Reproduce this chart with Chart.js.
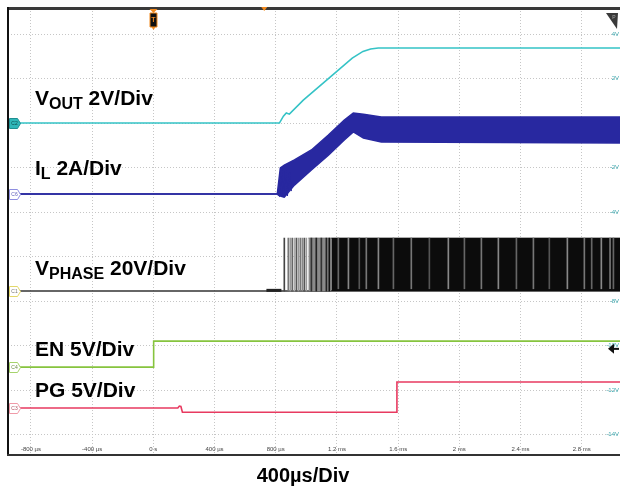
<!DOCTYPE html>
<html>
<head>
<meta charset="utf-8">
<script src="https://cdn.jsdelivr.net/npm/chart.js@4.4.1/dist/chart.umd.min.js"></script>
<style>
  html, body { margin: 0; padding: 0; background: #ffffff; }
  #wrap { width: 620px; height: 486px; }
</style>
</head>
<body>
<div id="wrap"><canvas id="c" width="620" height="486"></canvas></div>
<script>
// ---- axis ticks (time in µs, screen volts) ----
const timeTicks = [-800, -400, 0, 400, 800, 1200, 1600, 2000, 2400, 2800];
const timeTickLabels = ['-800 µs', '-400 µs', '0 s', '400 µs', '800 µs', '1.2 ms', '1.6 ms', '2 ms', '2.4 ms', '2.8 ms'];
const voltTicks = [4, 2, 0, -2, -4, -6, -8, -10, -12, -14];
const voltTickLabels = ['4V', '2V', '0V', '-2V', '-4V', '-6V', '-8V', '-10V', '-12V', '-14V'];

// ---- VOUT ----
const voutT = [-950, 824, 850, 869, 889, 980, 1163, 1300, 1370, 1420, 1470, 3050];
const voutV = [0, 0, 0.31, 0.45, 0.40, 1.03, 2.11, 2.92, 3.22, 3.33, 3.37, 3.37];

// ---- IL envelope (ripple band) ----
const ilT     = [-950, 810, 830, 856, 922, 1033, 1144, 1248, 1307, 1373, 1490, 3050];
const ilUpper = [-3.19, -3.19, -2.02, -1.89, -1.66, -1.21, -0.54, 0.13, 0.45, 0.40, 0.27, 0.27];
const ilLower = [-3.19, -3.19, -3.28, -3.33, -2.79, -2.11, -1.44, -0.76, -0.40, -0.67, -0.85, -0.90];
// IL start-up ringing
const ilRingT = [810, 824, 837, 850, 863, 876, 889, 902];
const ilRingV = [-3.19, -3.28, -2.02, -3.33, -2.11, -3.28, -2.20, -3.06];

// ---- VPHASE ----
const phaseLow = -7.55;
const phaseHigh = -5.17;
const phaseBaseT = [-950, 3050];
const phaseBumpT = [739, 837];
const phaseGrayT = [1013, 1163];
const phaseBlockT = [1163, 3050];
const pulseT = [856, 882, 895, 908, 922, 935, 948, 961, 974, 987, 1000, 1033, 1065, 1098, 1131, 1150];
const pulseShade = ['#444', '#777', '#999', '#666', '#aaa', '#555', '#999', '#777', '#888', '#555', '#999', '#333', '#222', '#333', '#222', '#111'];
const gapT = [1209, 1275, 1346, 1392, 1471, 1569, 1686, 1804, 1928, 2033, 2144, 2255, 2373, 2484, 2588, 2706, 2817, 2865, 2928, 2985, 3007];
const gapShade = ['#666', '#888', '#555', '#777', '#888', '#666', '#777', '#555', '#888', '#666', '#777', '#888', '#666', '#777', '#555', '#888', '#777', '#666', '#888', '#777', '#666'];

// ---- EN ----
const enT = [-950, 2, 2, 3050];
const enV = [-10.97, -10.97, -9.80, -9.80];

// ---- PG ----
const pgT = [-950, 160, 170, 180, 190, 1588, 1592, 3050];
const pgV = [-12.81, -12.81, -12.72, -12.74, -13.0, -13.0, -11.64, -11.64];

const zip = (xs, ys) => xs.map((x, i) => ({ x: x, y: ys[i] }));
const flat = (xs, v) => xs.map(x => ({ x: x, y: v }));

const COL = {
  vout: '#35c3c6',
  il: '#2828a0',
  phase: '#111111',
  en: '#86c43e',
  pg: '#e83a60'
};

const lineBase = { type: 'line', pointRadius: 0, tension: 0, borderWidth: 1.5, fill: false };

const overlay = {
  id: 'overlay',
  beforeDatasetsDraw(chart) {
    const ctx = chart.ctx, xs = chart.scales.x, ys = chart.scales.y;
    const a = chart.chartArea;
    ctx.save();
    ctx.font = '6px "Liberation Sans", Arial, sans-serif';
    ctx.fillStyle = '#3aa6ad';
    ctx.textAlign = 'right';
    ctx.textBaseline = 'middle';
    voltTicks.forEach((v, i) => ctx.fillText(voltTickLabels[i], a.right - 1, ys.getPixelForValue(v)));
    ctx.fillStyle = '#444';
    ctx.textAlign = 'center';
    ctx.textBaseline = 'alphabetic';
    timeTicks.forEach((t, i) => ctx.fillText(timeTickLabels[i], xs.getPixelForValue(t), a.bottom - 4));
    ctx.restore();
  },
  afterDatasetsDraw(chart) {
    const ctx = chart.ctx, xs = chart.scales.x, ys = chart.scales.y;
    const a = chart.chartArea;
    ctx.save();
    // frame
    ctx.fillStyle = '#3a3a3a';
    ctx.fillRect(a.left, a.top - 1, a.right - a.left, 3);
    ctx.fillStyle = '#111';
    ctx.fillRect(a.left - 1, a.top - 1, 2, a.bottom - a.top + 2);
    ctx.fillStyle = '#333';
    ctx.fillRect(a.left - 1, a.bottom - 1, a.right - a.left + 1, 2);

    // trigger marker at t = 0
    const tx = Math.round(xs.getPixelForValue(0)) + 0.5;
    ctx.fillStyle = '#f28a1e';
    ctx.beginPath(); ctx.moveTo(tx - 4, a.top + 1); ctx.lineTo(tx + 4, a.top + 1); ctx.lineTo(tx, a.top + 5); ctx.closePath(); ctx.fill();
    ctx.fillStyle = '#111';
    ctx.strokeStyle = '#f28a1e';
    ctx.lineWidth = 1;
    ctx.beginPath(); ctx.rect(tx - 3.5, a.top + 5, 7, 14); ctx.fill(); ctx.stroke();
    ctx.fillStyle = '#f28a1e';
    ctx.beginPath(); ctx.moveTo(tx - 2, a.top + 19); ctx.lineTo(tx + 2, a.top + 19); ctx.lineTo(tx, a.top + 22); ctx.closePath(); ctx.fill();
    ctx.font = 'bold 7px "Liberation Sans", Arial';
    ctx.textAlign = 'center'; ctx.textBaseline = 'middle';
    ctx.fillText('T', tx, a.top + 12);
    // horizontal position marker
    const hx = xs.getPixelForValue(725);
    ctx.fillStyle = '#f28a1e';
    ctx.beginPath(); ctx.moveTo(hx - 3, a.top - 1); ctx.lineTo(hx + 3, a.top - 1); ctx.lineTo(hx, a.top + 3); ctx.closePath(); ctx.fill();

    // top-right marker
    ctx.fillStyle = '#3a3a3a';
    ctx.beginPath(); ctx.moveTo(a.right - 14, a.top + 5); ctx.lineTo(a.right - 2, a.top + 5); ctx.lineTo(a.right - 3, a.top + 21); ctx.closePath(); ctx.fill();
    ctx.fillStyle = '#aaa';
    ctx.font = '5px "Liberation Sans", Arial';
    ctx.fillText('P', a.right - 6, a.top + 10);

    // trigger level arrow on right
    const ay = ys.getPixelForValue(-10.15);
    ctx.fillStyle = '#111';
    ctx.beginPath(); ctx.moveTo(a.right - 12, ay); ctx.lineTo(a.right - 6, ay - 5); ctx.lineTo(a.right - 6, ay + 5); ctx.closePath(); ctx.fill();
    ctx.fillRect(a.right - 7, ay - 1, 6, 2);

    // channel tags
    const tags = [
      { v: 0, t: 'C2', fill: '#2fb7b9', stroke: '#1f8f92', txt: '#0b4a4c' },
      { v: -3.19, t: 'C6', fill: '#ffffff', stroke: '#8e8ee0', txt: '#5a5ab8' },
      { v: phaseLow, t: 'C1', fill: '#ffffff', stroke: '#e3d86a', txt: '#777' },
      { v: -10.97, t: 'C4', fill: '#ffffff', stroke: '#a6d36c', txt: '#6a8a40' },
      { v: -12.81, t: 'C3', fill: '#ffffff', stroke: '#f09aa8', txt: '#b05060' }
    ];
    ctx.font = '5px "Liberation Sans", Arial';
    tags.forEach(g => {
      const y = Math.round(ys.getPixelForValue(g.v)) + 0.5;
      const x0 = a.left + 1.5;
      ctx.beginPath();
      ctx.moveTo(x0, y - 5); ctx.lineTo(x0 + 8, y - 5); ctx.lineTo(x0 + 11, y);
      ctx.lineTo(x0 + 8, y + 5); ctx.lineTo(x0, y + 5); ctx.closePath();
      ctx.fillStyle = g.fill; ctx.fill();
      ctx.strokeStyle = g.stroke; ctx.lineWidth = 1; ctx.stroke();
      ctx.fillStyle = g.txt; ctx.textAlign = 'center'; ctx.textBaseline = 'middle';
      ctx.fillText(g.t, x0 + 5, y + 0.5);
    });

    // trace labels
    const big = 'bold 21px "Liberation Sans", Arial, sans-serif';
    const sub = 'bold 16px "Liberation Sans", Arial, sans-serif';
    ctx.fillStyle = '#000';
    ctx.textAlign = 'left';
    ctx.textBaseline = 'alphabetic';
    const label = (x, y, main, subs, rest) => {
      ctx.font = big; ctx.fillText(main, x, y);
      let cx = x + ctx.measureText(main).width;
      if (subs) {
        ctx.font = sub; ctx.fillText(subs, cx, y + 4);
        cx += ctx.measureText(subs).width;
      }
      ctx.font = big; ctx.fillText(rest, cx, y);
    };
    label(35, 105, 'V', 'OUT', ' 2V/Div');
    label(35, 175, 'I', 'L', ' 2A/Div');
    label(35, 275, 'V', 'PHASE', ' 20V/Div');
    label(35, 356, 'EN 5V/Div', '', '');
    label(35, 397, 'PG 5V/Div', '', '');

    ctx.font = 'bold 20px "Liberation Sans", Arial, sans-serif';
    ctx.textAlign = 'center';
    ctx.fillText('400µs/Div', 303, 482);
    ctx.restore();
  }
};

const datasets = [
  Object.assign({}, lineBase, { label: 'IL ring', data: zip(ilRingT, ilRingV), borderColor: COL.il, borderWidth: 1.2, order: 1 }),
  Object.assign({}, lineBase, { label: 'VOUT', data: zip(voutT, voutV), borderColor: COL.vout, borderWidth: 1.6, order: 2 }),
  Object.assign({}, lineBase, { label: 'IL upper', data: zip(ilT, ilUpper), borderColor: COL.il, borderWidth: 1.5, fill: '+1', backgroundColor: COL.il, order: 3 }),
  Object.assign({}, lineBase, { label: 'IL lower', data: zip(ilT, ilLower), borderColor: COL.il, borderWidth: 1.5, order: 4 }),
  Object.assign({}, lineBase, { label: 'EN', data: zip(enT, enV), borderColor: COL.en, borderWidth: 1.6, order: 5 }),
  Object.assign({}, lineBase, { label: 'PG', data: zip(pgT, pgV), borderColor: COL.pg, borderWidth: 1.6, order: 6 }),
  { type: 'bar', label: 'gaps', data: gapT.map(t => ({ x: t, y: [phaseLow + 0.1, phaseHigh] })), backgroundColor: gapShade, barThickness: 1, grouped: false, order: 7 },
  { type: 'bar', label: 'pulses', data: pulseT.map(t => ({ x: t, y: [phaseLow, phaseHigh] })), backgroundColor: pulseShade, barThickness: 1, grouped: false, order: 8 },
  Object.assign({}, lineBase, { label: 'block', data: flat(phaseBlockT, phaseHigh), borderColor: '#111', borderWidth: 0.8, fill: { value: phaseLow }, backgroundColor: '#0c0c0c', order: 9 }),
  Object.assign({}, lineBase, { label: 'gray', data: flat(phaseGrayT, phaseHigh), borderColor: '#777', borderWidth: 0.8, fill: { value: phaseLow }, backgroundColor: '#8a8a8a', order: 10 }),
  Object.assign({}, lineBase, { label: 'bump', data: flat(phaseBumpT, phaseLow + 0.03), borderColor: '#222', borderWidth: 3, order: 11 }),
  Object.assign({}, lineBase, { label: 'VPHASE', data: flat(phaseBaseT, phaseLow), borderColor: '#333', borderWidth: 1.5, order: 12 })
];

new Chart(document.getElementById('c'), {
  type: 'line',
  data: { datasets: datasets },
  options: {
    responsive: false,
    animation: false,
    devicePixelRatio: 1,
    layout: { padding: { left: 8, top: 8, right: 0, bottom: 31 } },
    plugins: { legend: { display: false }, tooltip: { enabled: false } },
    scales: {
      x: {
        type: 'linear', min: -950, max: 3050, offset: false,
        afterBuildTicks: axis => { axis.ticks = timeTicks.map(v => ({ value: v })); },
        ticks: { display: false },
        grid: { color: '#c6c6c6', lineWidth: 1, drawTicks: false, offset: false },
        border: { display: false, dash: [1, 2] }
      },
      y: {
        type: 'linear', min: -14.92, max: 5.17,
        afterBuildTicks: axis => { axis.ticks = voltTicks.map(v => ({ value: v })); },
        ticks: { display: false },
        grid: { color: '#c6c6c6', lineWidth: 1, drawTicks: false },
        border: { display: false, dash: [1, 2] }
      }
    }
  },
  plugins: [overlay]
});
</script>
</body>
</html>
